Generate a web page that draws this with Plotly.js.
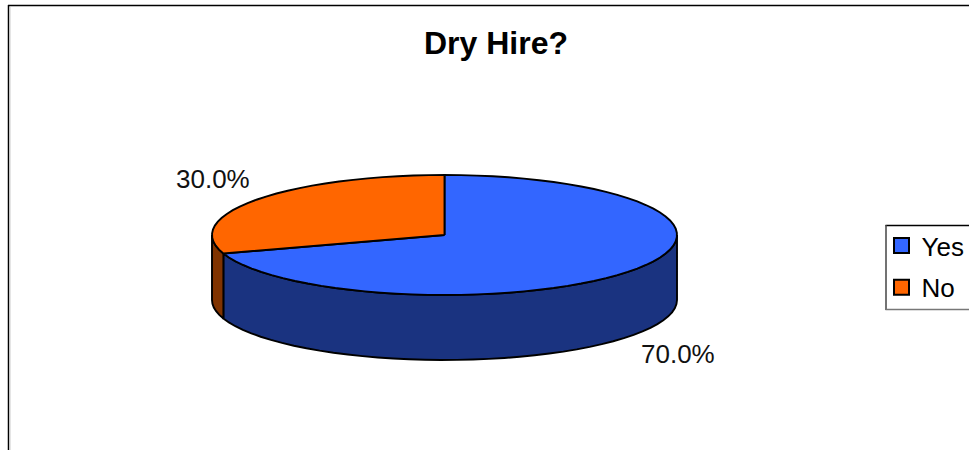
<!DOCTYPE html>
<html>
<head>
<meta charset="utf-8">
<script src="https://cdn.plot.ly/plotly-3.0.1.min.js"></script>
<style>html,body{margin:0;padding:0;background:#fff;overflow:hidden}</style>
</head>
<body>
<div id="chart" style="width:969px;height:450px"></div>
<script>
var categories = ["Yes", "No"];
var shares = [70.0, 30.0];
var labelTexts = ["70.0%", "30.0%"];
var topColors = ["#3366FF", "#FF6600"];
var wallColors = ["#1A3380", "#803300"];

// Ellipse of the tilted disc on a pixel-sized axis system
var cx = 444.5, cy = 235, rx = 232.5, ry = 60, depth = 65;

function pt(deg, dy) {
  var a = deg * Math.PI / 180;
  return [cx + rx * Math.sin(a), cy - ry * Math.cos(a) + (dy || 0)];
}
function arc(a0, a1, dy) {
  var out = [], n = Math.max(2, Math.ceil(Math.abs(a1 - a0) / 4));
  for (var i = 0; i <= n; i++) out.push(pt(a0 + (a1 - a0) * i / n, dy));
  return out;
}
function poly(points, color, lw) {
  return {
    type: "scatter", mode: "lines", fill: "toself", fillcolor: color,
    x: points.map(function (p) { return p[0]; }),
    y: points.map(function (p) { return p[1]; }),
    line: { color: "#000", width: lw || 1.9, simplify: false },
    hoverinfo: "skip", showlegend: false
  };
}

var total = shares.reduce(function (a, b) { return a + b; }, 0);
var traces = [];
var start = 0, spans = [];
shares.forEach(function (v) {
  var end = start + v / total * 360;
  spans.push([start, end]);
  start = end;
});

// Outer walls: only the front half (90 to 270 degrees) can be seen
spans.forEach(function (s, i) {
  var a0 = Math.max(s[0], 90), a1 = Math.min(s[1], 270);
  if (a1 > a0) {
    var pts = arc(a0, a1, 0).concat(arc(a1, a0, depth));
    pts.push(pts[0]);
    traces.push(poly(pts, wallColors[i]));
  }
});
// Top faces
spans.forEach(function (s, i) {
  var pts = [[cx, cy]].concat(arc(s[0], s[1], 0));
  pts.push([cx, cy]);
  traces.push(poly(pts, topColors[i]));
});
// Legend entries
categories.forEach(function (c, i) {
  traces.push({
    type: "scatter", mode: "markers", name: c, legendgroup: c,
    x: [null], y: [null],
    marker: { symbol: "square", size: 15, color: topColors[i], line: { color: "#000", width: 2 } }
  });
});

var layout = {
  width: 969, height: 450,
  margin: { l: 0, r: 0, t: 0, b: 0, autoexpand: false },
  paper_bgcolor: "#fff", plot_bgcolor: "#fff",
  font: { family: "Liberation Sans, Arial, sans-serif", color: "#000", size: 26 },
  title: {
    text: "<b>Dry Hire?</b>",
    font: { family: "Liberation Sans, Arial, sans-serif", size: 32, color: "#000" },
    x: 496 / 969, xanchor: "center", y: 1 - 43 / 450, yanchor: "middle", automargin: false
  },
  xaxis: { range: [0, 969], visible: false, fixedrange: true },
  yaxis: { range: [450, 0], visible: false, fixedrange: true },
  showlegend: true,
  legend: {
    x: 881.5 / 969, xanchor: "left", y: 1 - 222 / 450, yanchor: "top",
    bgcolor: "rgba(0,0,0,0)", borderwidth: 0,
    font: { family: "Liberation Sans, Arial, sans-serif", size: 26, color: "#000" },
    itemwidth: 30, tracegroupgap: 5, traceorder: "grouped"
  },
  annotations: [
    { x: 677.5, y: 354, xref: "x", yref: "y", text: labelTexts[0], showarrow: false,
      font: { size: 26, color: "#111" } },
    { x: 213, y: 179, xref: "x", yref: "y", text: labelTexts[1], showarrow: false,
      font: { size: 26, color: "#111" } }
  ],
  shapes: [
    { type: "line", xref: "x", yref: "y", x0: 8, y0: 5.5, x1: 969, y1: 5.5, line: { color: "#000", width: 1.5 } },
    { type: "line", xref: "x", yref: "y", x0: 8.5, y0: 5, x1: 8.5, y1: 450, line: { color: "#000", width: 1.5 } },
    { type: "line", xref: "x", yref: "y", x0: 10, y0: 7, x1: 10, y1: 450, line: { color: "#ccc", width: 1 } },
    { type: "line", xref: "x", yref: "y", x0: 885.5, y0: 225.5, x1: 969, y1: 225.5, line: { color: "#000", width: 1.5 } },
    { type: "line", xref: "x", yref: "y", x0: 886, y0: 225, x1: 886, y1: 310, line: { color: "#444", width: 1.5 } },
    { type: "line", xref: "x", yref: "y", x0: 885.5, y0: 309.5, x1: 969, y1: 309.5, line: { color: "#777", width: 1.5 } }
  ]
};

Plotly.newPlot("chart", traces, layout, { displayModeBar: false, staticPlot: true });
</script>
</body>
</html>
